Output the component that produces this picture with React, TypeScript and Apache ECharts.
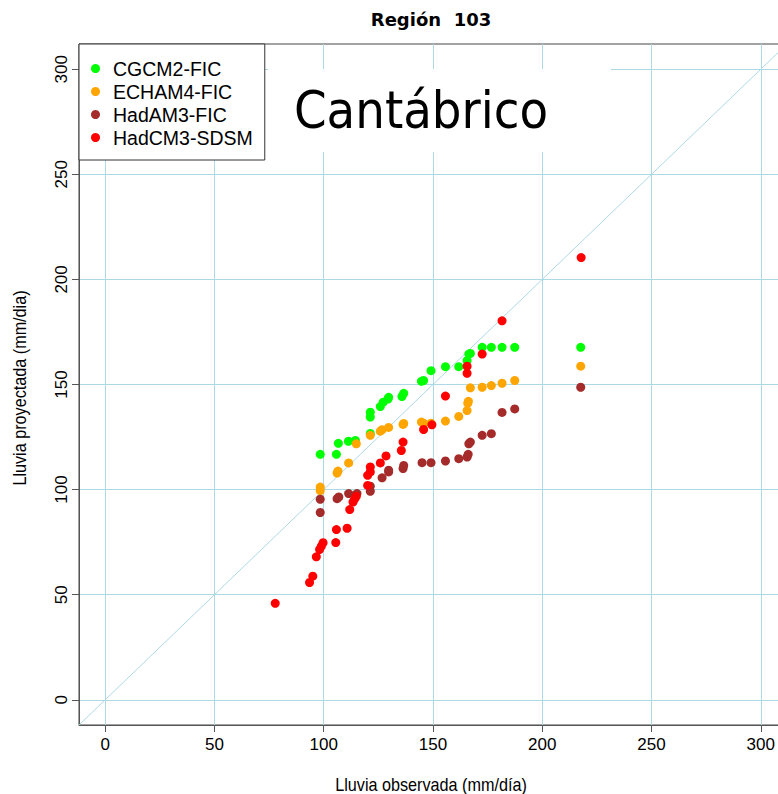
import React, { useEffect, useRef } from "react";
import * as echarts from "echarts";

const seriesNames = ["CGCM2-FIC", "ECHAM4-FIC", "HadAM3-FIC", "HadCM3-SDSM"];
const seriesColors = ["#00ff00", "#ffa500", "#a52a2a", "#ff0000"];

const cgcm2X = [98.4, 105.8, 106.7, 111.3, 114.5, 121.3, 121.3, 121.3, 125.9, 127.2, 129.4, 129.7, 135.8, 136.6, 144.7, 145.7, 149.1, 155.7, 161.8, 165.6, 166.4, 167.1, 172.5, 176.7, 181.6, 187.4, 217.6];
const cgcm2Y = [116.8, 116.8, 122, 123, 123.4, 126.7, 134.5, 136.8, 139.5, 141.6, 143.1, 143.9, 144.3, 145.8, 151.5, 151.9, 156.6, 158.5, 158.5, 161.4, 164.5, 164.8, 167.7, 167.7, 167.7, 167.7, 167.7];

const echam4X = [98.4, 98.4, 106.1, 106.5, 111.4, 114.9, 121.3, 125.9, 126.7, 129.7, 136.3, 136.6, 144.7, 145.7, 149.1, 155.7, 161.8, 165.6, 165.9, 166.2, 167.1, 172.5, 176.7, 181.6, 187.4, 217.6];
const echam4Y = [99.5, 101.2, 107.9, 108.8, 112.7, 121.8, 125.8, 127.8, 128.5, 129.6, 131, 131.5, 132.1, 131.6, 131.6, 132.6, 134.8, 137.6, 141.1, 142, 148.4, 148.7, 149.5, 150.6, 151.9, 158.7];

const hadam3X = [98.4, 98.4, 106.1, 106.9, 111.4, 114.5, 115.2, 121.3, 121.3, 126.7, 129.7, 129.7, 136.3, 136.6, 145, 149.1, 155.7, 161.8, 165.6, 166.1, 166.4, 167.1, 172.5, 176.7, 181.6, 187.4, 217.6];
const hadam3Y = [95.4, 89.1, 95.7, 96.5, 98.1, 96.7, 98.1, 101.6, 99.2, 105.6, 109.2, 108.4, 110, 111.5, 112.8, 112.8, 113.6, 114.7, 115.5, 116.8, 121.8, 122.6, 125.8, 126.6, 136.7, 138.4, 148.7];

const hadcm3X = [77.8, 93.5, 95, 96.6, 98.1, 98.9, 99.7, 105.5, 105.8, 110.7, 111.9, 113.4, 114.2, 114.9, 120.1, 120.1, 121.3, 121.3, 125.9, 128.5, 135.5, 136.3, 145.7, 149.5, 155.7, 165.6, 165.6, 172.5, 181.6, 217.8];
const hadcm3Y = [45.9, 55.8, 58.8, 68, 71.5, 73.1, 74.7, 74.8, 81, 81.6, 90.5, 94.1, 95.6, 96.8, 102, 106.8, 108.4, 110.8, 112.7, 116, 118.6, 122.6, 128.6, 130.8, 144.5, 155.3, 158.7, 164.5, 180.3, 210.4];

const tickValues = [0, 50, 100, 150, 200, 250, 300];
const axisMin = -12;
const axisMax = 312;
const diagonal = [[-12, -12], [312, 312]];

const titleText = "Región  103";
const regionName = "Cantábrico";
const xTitle = "Lluvia observada (mm/día)";
const yTitle = "Lluvia proyectada (mm/dia)";

const sans = "'Liberation Sans', Arial, sans-serif";

function zip(xs: number[], ys: number[]) {
  return xs.map((x, i) => [x, ys[i]]);
}

export default function App() {
  const ref = useRef<HTMLDivElement>(null);
  useEffect(() => {
    document.body.style.margin = "0";
    document.body.style.overflow = "hidden";
    if (!ref.current) return;
    const chart = echarts.init(ref.current, null, { renderer: "svg" });
    const allX = [cgcm2X, echam4X, hadam3X, hadcm3X];
    const allY = [cgcm2Y, echam4Y, hadam3Y, hadcm3Y];
    const axisCommon = (isY: boolean) => ({
      type: "value",
      min: axisMin,
      max: axisMax,
      axisLine: { show: true, onZero: false, lineStyle: { color: "#555", width: 1 } },
      axisTick: {
        show: true,
        length: 7,
        customValues: tickValues,
        lineStyle: { color: "#555", width: 1 },
      },
      axisLabel: {
        customValues: tickValues,
        fontFamily: sans,
        fontSize: 17,
        color: "#000",
        margin: isY ? 9 : 11,
        rotate: isY ? 90 : 0,
      },
      splitLine: { show: true, lineStyle: { color: "#add8e6", width: 1 } },
    });
    chart.setOption({
      animation: false,
      backgroundColor: "#fff",
      grid: { left: 79, top: 44, width: 708, height: 681, show: true, borderColor: "#444", borderWidth: 1, backgroundColor: "transparent" },
      xAxis: axisCommon(false),
      yAxis: axisCommon(true),
      legend: {
        show: true,
        orient: "vertical",
        left: 79,
        top: 44,
        data: seriesNames,
        icon: "circle",
        itemWidth: 9,
        itemHeight: 9,
        itemGap: 0,
        padding: [13, 12, 11, 12],
        borderColor: "#333",
        borderWidth: 1,
        borderRadius: 0,
        backgroundColor: "#fff",
        textStyle: { fontFamily: sans, fontSize: 19.5, color: "#000", lineHeight: 23, padding: [0, 0, 0, 8] },
        z: 10,
      },
      graphic: [
        { type: "rect", shape: { x: 268, y: 69, width: 343, height: 83 }, style: { fill: "#fff" }, z: 5 },
        {
          type: "text",
          x: 421,
          y: 110,
          style: { text: regionName, fontFamily: "'DejaVu Sans Condensed', 'DejaVu Sans', sans-serif", fontSize: 52, fill: "#000", align: "center", verticalAlign: "middle" },
          z: 6,
        },
        {
          type: "text",
          x: 431,
          y: 19,
          style: { text: titleText, fontFamily: "'DejaVu Sans', sans-serif", fontWeight: "bold", fontSize: 18, fill: "#000", align: "center", verticalAlign: "middle" },
        },
        {
          type: "text",
          x: 431,
          y: 785,
          scaleX: 0.9,
          style: { text: xTitle, fontFamily: sans, fontSize: 18, fill: "#000", align: "center", verticalAlign: "middle" },
        },
        {
          type: "text",
          x: 20,
          y: 388,
          rotation: Math.PI / 2,
          scaleX: 0.9,
          style: { text: yTitle, fontFamily: sans, fontSize: 18, fill: "#000", align: "center", verticalAlign: "middle" },
        },
      ],
      series: [
        {
          type: "line",
          data: diagonal,
          showSymbol: false,
          symbol: "none",
          lineStyle: { color: "#add8e6", width: 1 },
          silent: true,
          z: 1,
          legendHoverLink: false,
        },
        ...seriesNames.map((name, i) => ({
          name,
          type: "scatter",
          data: zip(allX[i], allY[i]),
          symbol: "circle",
          symbolSize: 9,
          itemStyle: { color: seriesColors[i], opacity: 1 },
          z: 3,
        })),
      ],
    });
    return () => chart.dispose();
  }, []);
  return <div ref={ref} style={{ width: 800, height: 794 }} />;
}
